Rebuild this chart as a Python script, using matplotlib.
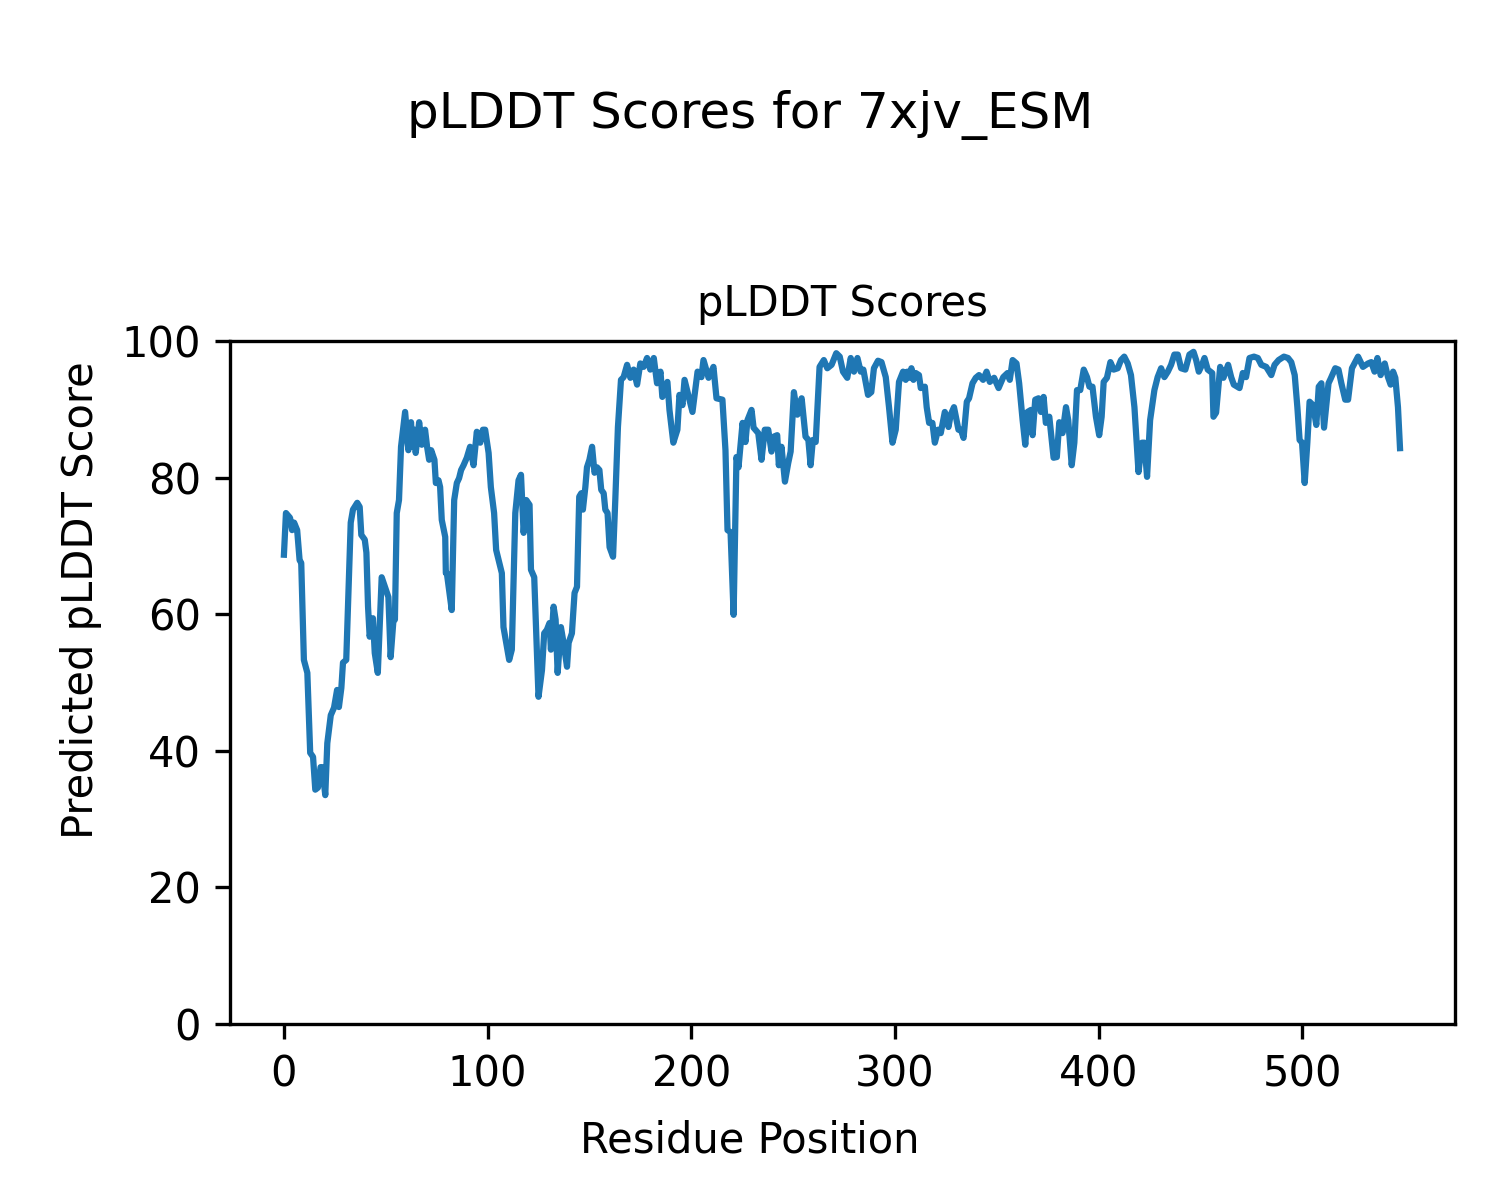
import numpy as np
import matplotlib.pyplot as plt

# residue positions and pLDDT values (turning points of the trace)
residue_pos = [
    0, 1, 3, 4, 5, 6.5, 7.7, 8.5, 9.8, 11.5, 12.9, 14.3, 15.4, 16.7, 18, 18.8, 20.3, 21.3, 23, 24.6,
    26.1, 27, 28.2, 29, 30.6, 32.8, 33.9, 36, 37.2, 38, 39.7, 40.5, 41.3, 42.1, 43.7, 44.6, 46.1, 48,
    51.3, 52.4, 53.8, 54.5, 55.4, 56.5, 57.5, 59.5, 61.1, 62.4, 63.1, 64.1, 64.7, 66.4, 67.7, 69.3,
    70.3, 71.3, 72.3, 73.9, 74.6, 75.9, 76.7, 77.5, 79.2, 79.5, 80, 82.4, 83.6, 84.9, 86, 87, 88.2,
    89.8, 91.4, 93.1, 94.7, 96.4, 97.7, 98.8, 100.5, 101.6, 103.2, 104.2, 107, 107.8, 109.5, 110.6,
    111.9, 113.6, 115.2, 116.4, 117.7, 119, 120.6, 121.3, 122.9, 125, 126.7, 127.8, 129.1, 130.4,
    131.1, 132.4, 133.4, 134.4, 136, 137.3, 139, 139.8, 141.4, 142.7, 143.9, 145, 146, 146.8, 148,
    148.8, 150, 151.3, 152.5, 153.7, 154.9, 155.8, 157, 157.8, 158.9, 159.9, 161.6, 162.7, 164,
    165.5, 166.8, 168.5, 170.1, 171.7, 173.4, 175, 176.6, 178.3, 179.9, 181.6, 183.2, 184.9, 185.8,
    188.3, 189.3, 191.2, 193.2, 194.2, 195.7, 196.7, 200.6, 203.1, 205, 206, 208.5, 210.9, 212.4,
    215.3, 216.8, 217.8, 219.3, 220.8, 222.2, 223.2, 225.2, 226.6, 227.6, 229.6, 230.6, 232.9,
    234.5, 236.1, 237.8, 239.4, 240.6, 242.2, 243, 244.3, 246, 247.6, 248.8, 250.4, 252.1, 254.2,
    256.1, 257.5, 258.6, 259.7, 261.1, 263, 265.1, 266.8, 268.9, 271.2, 272.9, 274.5, 276.6, 278.3,
    279.9, 281.6, 283.2, 284.5, 285.2, 286.8, 288.4, 289.7, 291.7, 293.4, 295.5, 297.1, 298.8,
    300.4, 302, 304, 305.3, 306.1, 307.4, 308.1, 309.1, 310.2, 311.8, 312.7, 314.7, 315.6, 316.8,
    318.4, 319.6, 321.2, 322.5, 324.5, 326.3, 327.4, 329, 331.2, 332.4, 333.7, 335.3, 336.4, 338.1,
    339.7, 341.3, 343.3, 345, 346.6, 348.7, 350.9, 353.2, 355.3, 356.4, 357.8, 359.7, 361, 362.7,
    364, 365.1, 366.8, 367.6, 368.9, 370.5, 371.7, 373, 374.1, 375.8, 377.9, 379.5, 380.7, 382.3,
    384, 385.1, 386.8, 388.1, 389.4, 391, 392.7, 394.3, 395.5, 397, 398.7, 400.3, 401.5, 402.5,
    404.1, 405.8, 407.4, 409.4, 411, 412.6, 414.3, 415.9, 417.6, 419.6, 421.3, 422.5, 423.8, 425.3,
    427.4, 429, 430.7, 432.3, 434, 435.6, 437.2, 438.9, 440.5, 442.6, 444.6, 446.6, 447.9, 449.2,
    450.8, 452, 453.6, 455.8, 456.4, 457.7, 459.7, 461.3, 463.6, 465.1, 466.4, 469.2, 470.8, 472.4,
    474.1, 476.3, 478.2, 479.9, 482.3, 484.8, 486.4, 488.4, 491, 493, 494.6, 496.3, 497.6, 498.7,
    499.9, 501.2, 502.5, 503.6, 505.3, 506.9, 508.1, 509.4, 510.7, 512.9, 514, 516.2, 517.8, 519.2,
    521.1, 522.5, 524.4, 527.4, 529.8, 532.3, 533.9, 535.5, 536.9, 538.5, 540.5, 542.1, 543.4,
    544.6, 545.7, 547, 548,
]
plddt = [
    68.7, 74.8, 74.1, 72.3, 73.4, 72.3, 67.9, 67.5, 53.3, 51.4, 39.7, 39.1, 34.3, 34.6, 37.6, 37.6, 33.5, 41.1, 45.2, 46.3,
    48.9, 46.4, 49.2, 52.9, 53.3, 73.4, 75.3, 76.3, 75.7, 71.6, 70.9, 69.0, 61.1, 56.7, 59.4, 54.3, 51.4, 65.4,
    62.5, 53.7, 59.2, 59.2, 74.8, 76.7, 84.5, 89.6, 84.0, 88.1, 84.5, 87.0, 83.6, 88.1, 84.8, 87.0,
    84.5, 82.6, 84.0, 82.6, 79.2, 79.6, 78.6, 73.8, 71.3, 66.0, 66.0, 60.6, 76.7, 79.2, 79.9, 81.1, 81.8,
    82.9, 84.5, 81.8, 86.7, 85.1, 87.0, 87.0, 83.6, 78.6, 74.8, 69.4, 66.0, 58.1, 55.2, 53.3,
    54.8, 74.8, 79.6, 80.4, 71.9, 76.7, 76.0, 66.5, 65.4, 47.9, 51.8, 57.2, 57.7, 58.7,
    54.8, 61.1, 59.2, 51.4, 58.1, 55.8, 52.3, 55.8, 57.2, 63.1, 64.0, 77.2, 77.7, 75.3, 78.6,
    81.5, 82.6, 84.5, 80.7, 81.5, 81.1, 78.2, 77.7, 75.3, 74.8, 69.8, 68.4, 76.7, 87.4,
    94.3, 94.7, 96.5, 94.6, 95.8, 93.6, 96.7, 96.2, 97.5, 95.8, 97.5, 93.8, 95.5, 91.8,
    94.0, 89.9, 85.1, 87.0, 92.1, 90.6, 94.3, 89.6, 95.5, 94.7, 97.2, 94.6, 96.2, 91.6,
    91.4, 84.0, 72.3, 72.0, 59.9, 83.0, 81.5, 88.0, 85.2, 88.4, 89.9, 87.3, 86.5,
    82.6, 87.0, 87.0, 83.8, 86.0, 86.2, 81.8, 84.5, 79.4, 82.1, 83.8, 92.5, 89.2, 91.6,
    86.0, 85.5, 81.8, 85.5, 85.2, 96.2, 97.2, 96.0, 96.5, 98.2, 97.7, 95.5, 94.6, 97.5,
    95.5, 97.5, 95.5, 95.8, 94.7, 92.1, 92.5, 96.0, 97.1, 96.9, 94.7, 90.3, 85.1,
    87.0, 94.0, 95.5, 94.3, 95.5, 94.6, 96.0, 94.3, 95.3, 95.0, 93.1, 93.3, 90.3, 88.0,
    88.0, 85.1, 87.0, 86.5, 89.6, 87.4, 89.2, 90.3, 87.0, 87.0, 85.8, 91.1, 91.6, 93.8,
    94.6, 95.0, 94.3, 95.5, 94.0, 94.6, 93.1, 94.7, 95.3, 94.3, 97.2, 96.7, 93.8, 88.4,
    84.8, 89.6, 89.9, 86.2, 91.4, 91.6, 89.6, 91.8, 88.0, 88.9, 82.9, 83.0, 88.1, 86.5,
    90.3, 88.4, 81.8, 85.1, 92.8, 92.8, 95.8, 94.7, 93.3, 93.3, 88.9, 86.2, 88.9, 94.0,
    94.6, 96.9, 95.8, 96.0, 97.2, 97.7, 96.7, 95.0, 90.3, 80.8, 85.1, 85.1, 80.1, 88.4,
    92.8, 94.7, 96.0, 94.7, 95.5, 96.5, 98.0, 98.0, 96.0, 95.8, 98.0, 98.4, 97.2, 95.5,
    96.5, 97.5, 95.8, 95.3, 88.9, 89.5, 96.2, 94.6, 96.5, 94.7, 93.6, 93.1, 95.3, 94.7,
    97.5, 97.7, 97.5, 96.5, 96.2, 95.0, 96.5, 97.2, 97.7, 97.5, 96.9, 95.0, 90.3, 85.5,
    85.1, 79.2, 85.1, 91.1, 90.6, 87.7, 93.3, 93.8, 87.3, 93.8, 94.5, 96.0, 95.8, 93.8,
    91.4, 91.4, 96.0, 97.7, 96.2, 96.7, 96.9, 95.5, 97.5, 95.0, 96.7, 94.7, 93.6,
    95.5, 94.6, 90.3, 84.3,
]

fig = plt.figure(figsize=(5, 4), dpi=300)
fig.suptitle('pLDDT Scores for 7xjv_ESM', fontsize=12, y=0.925, va='top')

ax = fig.add_axes([0.1533, 0.1467, 0.8167, 0.5692])
ax.plot(residue_pos, plddt, color='#1f77b4', linewidth=1.5)
ax.set_xlim(-26.5, 575)
ax.set_ylim(0, 100)
ax.set_title('pLDDT Scores', fontsize=10)

# axis labels are figure-level (centred on the figure, not the axes)
fig.supxlabel('Residue Position', fontsize=10, y=0.032, va='bottom')
fig.supylabel('Predicted pLDDT Score', fontsize=10, x=0.04, ha='left')

fig.savefig('out.png', dpi=300)
